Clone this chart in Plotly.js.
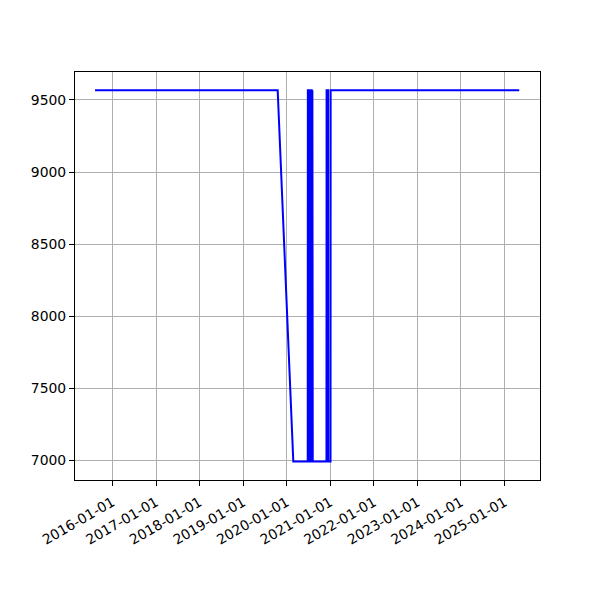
<!DOCTYPE html>
<html>
<head>
<meta charset="utf-8">
<script src="https://cdn.plot.ly/plotly-3.0.1.min.js"></script>
<style>html,body{margin:0;padding:0;background:#fff;}#chart{width:600px;height:600px;}</style>
</head>
<body>
<div id="chart"></div>
<script>
// Values
var HIGH = 9568;
var LOW = 6992;
var dates = [
  "2015-08-09", "2019-10-18", "2020-02-26", "2020-06-26",
  "2020-06-27", "2020-06-30", "2020-07-01", "2020-07-04", "2020-07-05",
  "2020-07-09", "2020-07-10", "2020-07-14", "2020-07-15", "2020-07-19",
  "2020-07-20", "2020-07-24", "2020-07-25", "2020-07-29", "2020-07-30",
  "2020-08-03", "2020-08-04", "2020-08-07",
  "2020-11-30", "2020-12-01", "2020-12-14", "2020-12-15", "2021-01-03",
  "2021-01-04", "2025-05-04"
];
var values = [
  HIGH, HIGH, LOW, LOW,
  HIGH, HIGH, LOW, LOW, HIGH,
  HIGH, LOW, LOW, HIGH, HIGH,
  LOW, LOW, HIGH, HIGH, LOW,
  LOW, HIGH, LOW,
  LOW, HIGH, HIGH, LOW, LOW,
  HIGH, HIGH
];
var yTicks = [7000, 7500, 8000, 8500, 9000, 9500];

var trace = {
  x: dates, y: values, type: "scatter", mode: "lines",
  line: {color: "#0000ff", width: 2}, hoverinfo: "skip"
};
var axisCommon = {
  showline: true, mirror: true, linecolor: "#000", linewidth: 1,
  ticks: "outside", ticklen: 5, tickwidth: 1, tickcolor: "#000",
  showgrid: true, gridcolor: "#b0b0b0", gridwidth: 1, zeroline: false,
  tickfont: {family: "DejaVu Sans", size: 13.9, color: "#000"}
};
var layout = {
  width: 600, height: 600,
  margin: {l: 75, r: 60, t: 72, b: 120},
  paper_bgcolor: "#fff", plot_bgcolor: "#fff",
  showlegend: false,
  xaxis: Object.assign({}, axisCommon, {
    type: "date", range: ["2015-02-22", "2025-10-25"],
    tick0: "2016-01-01", dtick: "M12", tickformat: "%Y-%m-%d", tickangle: -30,
    ticklabelstandoff: 3
  }),
  yaxis: Object.assign({}, axisCommon, {
    range: [6863, 9694], tickmode: "array", tickvals: yTicks,
    ticktext: yTicks.map(String)
  })
};
Plotly.newPlot("chart", [trace], layout, {staticPlot: true, displayModeBar: false});
</script>
</body>
</html>
